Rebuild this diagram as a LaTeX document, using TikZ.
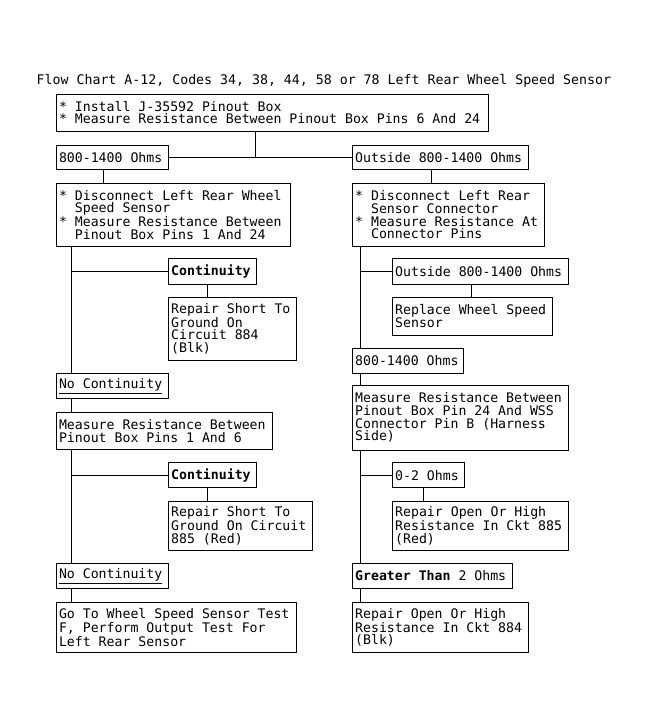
\documentclass[tikz,border=0pt]{standalone}
\usepackage{fontspec}
\newfontfamily\monofnt{DejaVu Sans Mono}
\newcommand\ind{\hphantom{**}}
\begin{document}
\begin{tikzpicture}[x=1pt,y=-1pt,
  box/.style={draw, line width=1pt, rectangle, anchor=north west, inner xsep=3pt, inner ysep=0pt,
    align=left, font=\monofnt\fontsize{13.2pt}{12.7pt}\selectfont,
    execute at begin node={\spaceskip=0pt\xspaceskip=0pt\relax}},
  link/.style={line width=1pt}]
\fill[white] (0,0) rectangle (647,728);
\useasboundingbox (0,0) rectangle (647,728);
\node[anchor=west, inner sep=0pt, font=\monofnt\fontsize{13.25pt}{13pt}\selectfont] (title) at (36.5,81.3)
  {Flow Chart A-12, Codes 34, 38, 44, 58 or 78 Left Rear Wheel Speed Sensor};
% boxes
\node[box, text width=426.2pt, minimum height=37.2pt] (b1) at (55.5,93.5)
  {* Install J-35592 Pinout Box\\{}* Measure Resistance Between Pinout Box Pins 6 And 24};
\node[box, text width=106.2pt, minimum height=24.5pt] (r1) at (55.5,144.5) {800-1400 Ohms};
\node[box, text width=170pt, minimum height=24.5pt] (r2) at (351.7,144.5) {Outside 800-1400 Ohms};
\node[box, text width=228.5pt, minimum height=62.5pt] (b2) at (55.5,183)
  {* Disconnect Left Rear Wheel\\\ind Speed Sensor\\{}* Measure Resistance Between\\\ind Pinout Box Pins 1 And 24};
\node[box, text width=186.3pt, minimum height=62.5pt] (b3) at (351.7,183)
  {* Disconnect Left Rear\\\ind Sensor Connector\\{}* Measure Resistance At\\\ind Connector Pins};
% left column
\node[box, text width=82.3pt, minimum height=26pt] (cont1) at (167.7,258.3) {\textbf{Continuity}};
\node[box, text width=122pt, minimum height=63.3pt] (rep1) at (167.7,296.7)
  {Repair Short To\\Ground On\\Circuit 884\\(Blk)};
\node[box, text width=106.8pt, minimum height=25pt] (nc1) at (55.5,373.3) {\underline{No Continuity}};
\node[box, text width=210.2pt, minimum height=37.6pt] (m2) at (55.5,411.7)
  {Measure Resistance Between\\Pinout Box Pins 1 And 6};
\node[box, text width=82.3pt, minimum height=25pt] (cont2) at (167.7,462.3) {\textbf{Continuity}};
\node[box, text width=138pt, minimum height=49.3pt] (rep2) at (167.7,500.7)
  {Repair Short To\\Ground On Circuit\\885 (Red)};
\node[box, text width=106.8pt, minimum height=25pt] (nc2) at (55.5,563.3) {\underline{No Continuity}};
\node[box, text width=234.5pt, minimum height=50.6pt] (goto) at (55.5,601.7)
  {Go To Wheel Speed Sensor Test\\F, Perform Output Test For\\Left Rear Sensor};
% right column
\node[box, text width=170.6pt, minimum height=25.7pt] (out2) at (391.7,258.3) {Outside 800-1400 Ohms};
\node[box, text width=154pt, minimum height=38.3pt] (repl) at (391.7,296.7)
  {Replace Wheel Speed\\Sensor};
\node[box, text width=105.6pt, minimum height=25.6pt] (ok2) at (351.7,347.7) {800-1400 Ohms};
\node[box, text width=210.6pt, minimum height=64.5pt] (m3) at (351.7,385)
  {Measure Resistance Between\\Pinout Box Pin 24 And WSS\\Connector Pin B (Harness\\Side)};
\node[box, text width=66.6pt, minimum height=25pt] (z02) at (391.7,462.3) {0-2 Ohms};
\node[box, text width=170.6pt, minimum height=49.3pt] (rep3) at (391.7,500.7)
  {Repair Open Or High\\Resistance In Ckt 885\\(Red)};
\node[box, text width=154pt, minimum height=24.4pt] (gt) at (351.7,563.3) {\textbf{Greater Than} 2 Ohms};
\node[box, text width=170pt, minimum height=50.6pt] (rep4) at (351.7,601.7)
  {Repair Open Or High\\Resistance In Ckt 884\\(Blk)};
% connector guide coordinates
\coordinate (xL) at (71.7,0);
\coordinate (xR) at (360.5,0);
\coordinate (j1) at (r1.east -| 255.7,0);
\coordinate (v1) at (103.3,0);
\coordinate (v2) at (431.7,0);
\coordinate (v3) at (207.3,0);
\coordinate (v4) at (471.7,0);
\coordinate (v5) at (423.3,0);
% connectors
\draw[link] (b1.south -| j1) -- (j1);
\draw[link] (r1.east) -- (r2.west);
\draw[link] (r1.south -| v1) -- (b2.north -| v1);
\draw[link] (r2.south -| v2) -- (b3.north -| v2);
\draw[link] (b2.south -| xL) -- (nc1.north -| xL);
\draw[link] (cont1.west -| xL) -- (cont1.west);
\draw[link] (cont1.south -| v3) -- (rep1.north -| v3);
\draw[link] (nc1.south -| xL) -- (m2.north -| xL);
\draw[link] (m2.south -| xL) -- (nc2.north -| xL);
\draw[link] (cont2.west -| xL) -- (cont2.west);
\draw[link] (cont2.south -| v3) -- (rep2.north -| v3);
\draw[link] (nc2.south -| xL) -- (goto.north -| xL);
\draw[link] (b3.south -| xR) -- (ok2.north -| xR);
\draw[link] (out2.west -| xR) -- (out2.west);
\draw[link] (out2.south -| v4) -- (repl.north -| v4);
\draw[link] (ok2.south -| xR) -- (m3.north -| xR);
\draw[link] (m3.south -| xR) -- (gt.north -| xR);
\draw[link] (z02.west -| xR) -- (z02.west);
\draw[link] (z02.south -| v5) -- (rep3.north -| v5);
\draw[link] (gt.south -| xR) -- (rep4.north -| xR);
\end{tikzpicture}
\end{document}
